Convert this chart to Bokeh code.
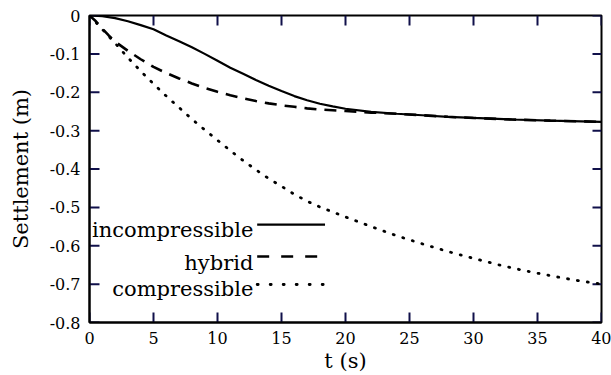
import math
from bokeh.plotting import figure
from bokeh.models import Range1d, FixedTicker, Label, CustomJSTickFormatter
from bokeh.embed import file_html
from bokeh.resources import INLINE

# ---------------- data ----------------
t_incomp = [0, 1, 2, 3, 4, 5, 6, 7, 8, 9, 10, 11, 12, 13, 14, 15, 16, 17, 18, 19,
            20, 22, 24, 26, 28, 30, 33, 36, 40]
s_incomp = [0, -0.002, -0.007, -0.015, -0.025, -0.036, -0.052, -0.067, -0.083, -0.100,
            -0.118, -0.136, -0.152, -0.168, -0.183, -0.197, -0.210, -0.221, -0.230, -0.237,
            -0.243, -0.251, -0.256, -0.260, -0.264, -0.267, -0.271, -0.274, -0.277]

t_hybrid = [0, 0.5, 1, 1.5, 2, 3, 4, 5, 6, 7, 8, 9, 10, 11, 12, 13, 14, 15, 16, 17,
            18, 19, 20, 22, 24, 26, 28, 30, 33, 36, 40]
s_hybrid = [0, -0.015, -0.034, -0.052, -0.068, -0.092, -0.114, -0.134, -0.150, -0.164,
            -0.177, -0.189, -0.199, -0.208, -0.216, -0.223, -0.229, -0.234, -0.238, -0.242,
            -0.245, -0.247, -0.249, -0.253, -0.256, -0.260, -0.264, -0.267, -0.271, -0.274, -0.277]

t_comp = [0, 1, 2, 3, 4, 5, 6, 7, 8, 9, 10, 11, 12, 13, 14, 15, 16, 17, 18, 19,
          20, 22, 24, 26, 28, 30, 32, 34, 36, 38, 40]
s_comp = [0, -0.036, -0.072, -0.110, -0.145, -0.178, -0.210, -0.240, -0.270, -0.298,
          -0.325, -0.352, -0.378, -0.402, -0.425, -0.445, -0.466, -0.484, -0.499, -0.512,
          -0.525, -0.550, -0.574, -0.595, -0.615, -0.633, -0.650, -0.665, -0.678, -0.690, -0.700]

x_ticks = [0, 5, 10, 15, 20, 25, 30, 35, 40]
x_tick_labels = ["0", "5", "10", "15", "20", "25", "30", "35", "40"]
y_ticks = [0, -0.1, -0.2, -0.3, -0.4, -0.5, -0.6, -0.7, -0.8]
y_tick_labels = ["0", "-0.1", "-0.2", "-0.3", "-0.4", "-0.5", "-0.6", "-0.7", "-0.8"]

series_names = ["incompressible", "hybrid", "compressible"]
x_label = "t (s)"
y_label = "Settlement (m)"

# ---------------- styling / layout ----------------
FONT = "DejaVu Serif"
TICK_FS = "16px"
LABEL_FS = "21px"
LEGEND_FS = "21px"
TICK_COLOR = "#10104a"
W, H = 611, 375
B_LEFT, B_RIGHT, B_TOP, B_BOTTOM = 89, 10, 15, 53
X0, X1 = 0, 40
Y0, Y1 = -0.8, 0
TICK_PX = 10

p = figure(width=W, height=H, output_backend="svg", toolbar_location=None,
           x_range=Range1d(X0, X1), y_range=Range1d(Y0, Y1),
           min_border_left=B_LEFT, min_border_right=B_RIGHT,
           min_border_top=B_TOP, min_border_bottom=B_BOTTOM)
p.grid.visible = False
p.outline_line_color = "black"
p.outline_line_width = 2
p.background_fill_color = "white"
p.border_fill_color = "white"

LABEL_JS = """
for (let i = 0; i < tv.length; i++) {
    if (Math.abs(tv[i] - tick) < 1e-9) { return tl[i]; }
}
return "";
"""


def style_axis(ax, ticks, labels):
    ax.ticker = FixedTicker(ticks=ticks)
    ax.formatter = CustomJSTickFormatter(args=dict(tv=ticks, tl=labels), code=LABEL_JS)
    ax.major_tick_in = 0
    ax.major_tick_out = 0
    ax.major_tick_line_color = None
    ax.minor_tick_line_color = None
    ax.axis_line_width = 2
    ax.axis_line_color = "black"
    ax.major_label_text_font = FONT
    ax.major_label_text_color = "black"
    ax.major_label_text_font_size = TICK_FS
    ax.major_label_standoff = 9
    ax.axis_label_text_font = FONT
    ax.axis_label_text_font_size = LABEL_FS
    ax.axis_label_text_font_style = "normal"
    ax.axis_label_text_color = "black"


xb = p.xaxis[0]
yl = p.yaxis[0]
style_axis(xb, x_ticks, x_tick_labels)
style_axis(yl, y_ticks, y_tick_labels)
xb.axis_label = x_label
xb.axis_label_standoff = 2
yl.axis_label = y_label
yl.axis_label_standoff = 14

# inward ticks on all four frame edges (rays from the edge, screen-length)
n_x = len(x_ticks)
n_y = len(y_ticks)
tick_style = dict(line_color=TICK_COLOR, line_width=2)
p.ray(x=x_ticks, y=[Y0] * n_x, length=TICK_PX, length_units="screen",
      angle=math.pi / 2, **tick_style)
p.ray(x=x_ticks, y=[Y1] * n_x, length=TICK_PX, length_units="screen",
      angle=-math.pi / 2, **tick_style)
p.ray(x=[X0] * n_y, y=y_ticks, length=TICK_PX, length_units="screen",
      angle=0, **tick_style)
p.ray(x=[X1] * n_y, y=y_ticks, length=TICK_PX - 1, length_units="screen",
      angle=math.pi, **tick_style)

# curves
p.line(t_incomp, s_incomp, line_color="black", line_width=2.2)
p.line(t_hybrid, s_hybrid, line_color="black", line_width=2.6, line_dash="12 8")
p.line(t_comp, s_comp, line_color="black", line_width=2.8, line_dash="1 9",
       line_cap="round")

# legend (right-aligned text with the sample line to its right)
leg_text_x = 12.8
leg_line_x0, leg_line_x1 = 13.1, 18.4
leg_line_y = [-0.545, -0.628, -0.701]
leg_text_y = [-0.558, -0.644, -0.712]
styles = [dict(line_width=2.2),
          dict(line_width=2.6, line_dash="12 12"),
          dict(line_width=2.8, line_dash="1 12", line_cap="round")]
for name, ly, tyy, st in zip(series_names, leg_line_y, leg_text_y, styles):
    p.add_layout(Label(x=leg_text_x, y=tyy, text=name, text_align="right",
                       text_baseline="alphabetic", text_font=FONT,
                       text_font_size=LEGEND_FS, text_color="black"))
    p.line([leg_line_x0, leg_line_x1], [ly, ly], line_color="black", **st)

open("out.html", "w").write(file_html(p, INLINE))
